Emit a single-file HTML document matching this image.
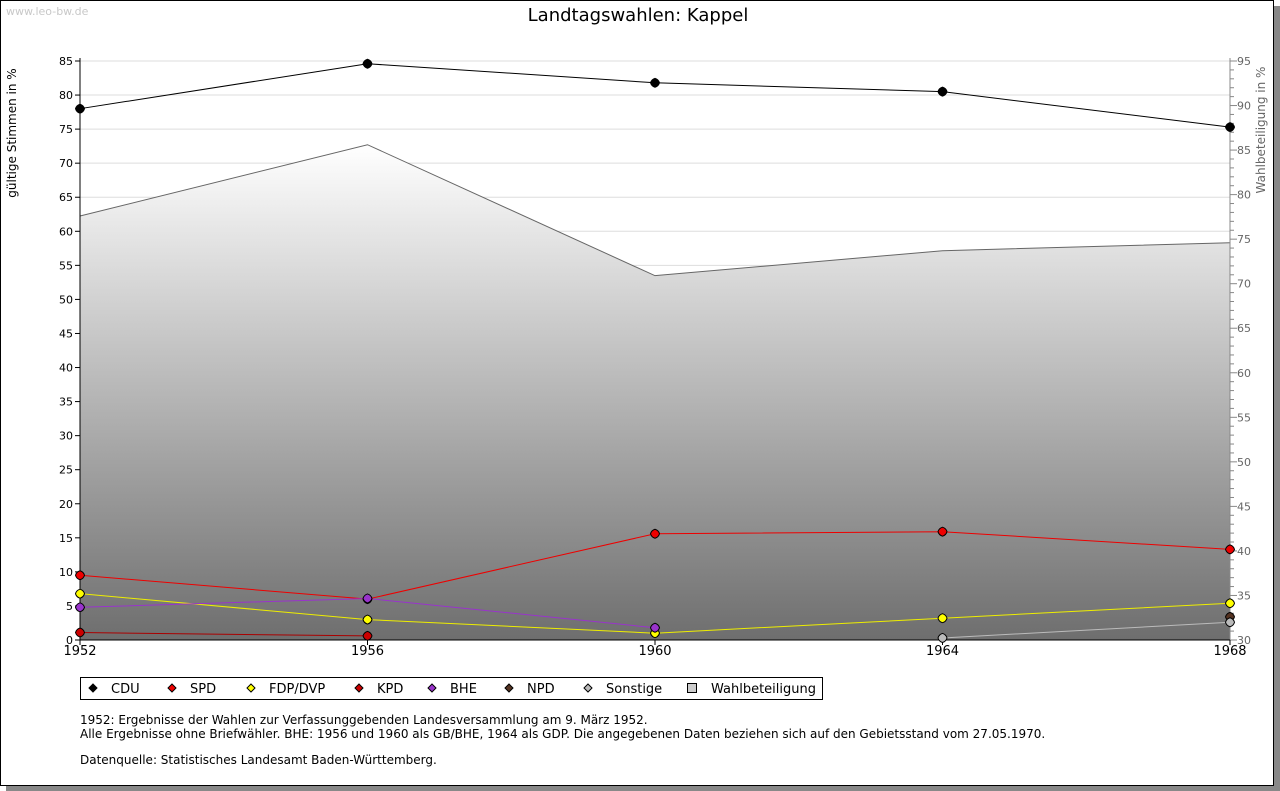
<!DOCTYPE html>
<html><head><meta charset="utf-8"><style>
body{margin:0;background:#fff;font-family:"DejaVu Sans","Liberation Sans",sans-serif}
#frame{position:absolute;left:0;top:0;width:1272px;height:784px;border:1px solid #000;background:#fff;box-shadow:6px 6px 0 #888}
</style></head><body>
<div id="frame"></div>
<svg id="c" width="1280" height="791" style="position:absolute;left:0;top:0" font-family="DejaVu Sans, Liberation Sans, sans-serif">
<defs><linearGradient id="g" x1="0" y1="0" x2="0" y2="1"><stop offset="0" stop-color="#fff"/><stop offset="1" stop-color="#6e6e6e"/></linearGradient></defs>
<text x="6" y="15" font-size="11" fill="#c8c8c8">www.leo-bw.de</text>
<text x="638" y="21" font-size="18" text-anchor="middle">Landtagswahlen: Kappel</text>
<text transform="translate(16,133) rotate(-90)" font-size="12" text-anchor="middle">gültige Stimmen in %</text>
<text transform="translate(1265,130) rotate(-90)" font-size="12" fill="#666" text-anchor="middle">Wahlbeteiligung in %</text>
<g id="plot"></g>
<g>
<rect x="80.5" y="677.5" width="742" height="22" fill="#fff" stroke="#000"/>
<g id="leg"></g>
</g>
<text font-size="12"><tspan x="80" y="724">1952: Ergebnisse der Wahlen zur Verfassunggebenden Landesversammlung am 9. März 1952.</tspan><tspan x="80" y="738">Alle Ergebnisse ohne Briefwähler. BHE: 1956 und 1960 als GB/BHE, 1964 als GDP. Die angegebenen Daten beziehen sich auf den Gebietsstand vom 27.05.1970.</tspan><tspan x="80" y="764">Datenquelle: Statistisches Landesamt Baden-Württemberg.</tspan></text>
</svg>
<script>
const years=[1952,1956,1960,1964,1968];
const cdu=[78.0,84.6,81.8,80.5,75.3];
const spd=[9.5,6.0,15.6,15.9,13.3];
const fdp=[6.8,3.0,1.0,3.2,5.4];
const kpd=[1.1,0.6,null,null,null];
const bhe=[4.8,6.1,1.8,null,null];
const npd=[null,null,null,null,3.4];
const sonst=[null,null,null,0.3,2.6];
const turnout=[77.6,85.6,70.9,73.7,74.6];
const leftTicks=[0,5,10,15,20,25,30,35,40,45,50,55,60,65,70,75,80,85];
const rightTicks=[30,35,40,45,50,55,60,65,70,75,80,85,90,95];
const NS='http://www.w3.org/2000/svg';
const X0=80,X1=1230,Y0=640,Y1=61;
const x=y=>X0+(y-1952)/(1968-1952)*(X1-X0);
const yl=v=>Y0-v/85*(Y0-Y1);
const yr=v=>Y0-(v-30)/65*(Y0-Y1);
const P=document.getElementById('plot');
function el(t,a,p){const e=document.createElementNS(NS,t);for(const k in a)e.setAttribute(k,a[k]);(p||P).appendChild(e);return e;}
leftTicks.forEach(t=>{if(t>0){const l=el('line',{x1:X0,x2:X1,y1:yl(t),y2:yl(t),stroke:'#ddd'});

}
const tx=el('text',{x:X0-7,y:yl(t)+4,'font-size':11,'text-anchor':'end'});tx.textContent=t;


el('line',{x1:X0-5,x2:X0,y1:yl(t),y2:yl(t),stroke:'#000'});});
let d='M'+x(years[0])+','+Y0;years.forEach((yy,i)=>d+='L'+x(yy)+','+yr(turnout[i]));d+='L'+X1+','+Y0+'Z';
const ar=el('path',{d:d,fill:'url(#g)'});


let d2='';years.forEach((yy,i)=>d2+=(i?'L':'M')+x(yy)+','+yr(turnout[i]));
el('path',{d:d2,fill:'none',stroke:'#666'});
el('line',{x1:X0,x2:X0,y1:Y1-3,y2:Y0,stroke:'#000'});
el('line',{x1:X1,x2:X1,y1:Y1-3,y2:Y0,stroke:'#888'});
el('line',{x1:X0,x2:X1,y1:Y0,y2:Y0,stroke:'#000'});
rightTicks.forEach(t=>{el('line',{x1:X1,x2:X1+7,y1:yr(t),y2:yr(t),stroke:'#888'});
const tx=el('text',{x:X1+7,y:yr(t)+4,'font-size':11,fill:'#666'});tx.textContent=t;


if(t<95)for(let k=1;k<5;k++)el('line',{x1:X1,x2:X1+4,y1:yr(t+k),y2:yr(t+k),stroke:'#888'});});
years.forEach(yy=>{el('line',{x1:x(yy),x2:x(yy),y1:Y0,y2:Y0+5,stroke:'#000'});
const tx=el('text',{x:x(yy),y:Y0+15,'font-size':13,'text-anchor':'middle'});tx.textContent=yy;

});
const series=[['cdu',cdu,'#000','#000'],['spd',spd,'#e00','#e00'],['fdp',fdp,'#ee0','#ff0'],['kpd',kpd,'#a00','#c00'],['bhe',bhe,'#93c','#93c'],['npd',npd,'#532','#532'],['sonstige',sonst,'#bbb','#bbb']];
series.forEach(([n,v,c,f])=>{let dd='',st=false;v.forEach((val,i)=>{if(val==null){st=false;return;}dd+=(st?'L':'M')+x(years[i])+','+yl(val);st=true;});
const ln=el('path',{d:dd,fill:'none',stroke:c});


v.forEach((val,i)=>{if(val==null)return;const X=x(years[i]),Y=yl(val);
const m=el('path',{d:`M${X},${Y-4.5}Q${X+3.5},${Y-3.5} ${X+4.5},${Y}Q${X+3.5},${Y+3.5} ${X},${Y+4.5}Q${X-3.5},${Y+3.5} ${X-4.5},${Y}Q${X-3.5},${Y-3.5} ${X},${Y-4.5}Z`,fill:f,stroke:'#000'});

});});
const L=document.getElementById('leg');
const legItems=[['CDU','#000',93],['SPD','#e00',172],['FDP/DVP','#ff0',251],['KPD','#c00',359],['BHE','#93c',432],['NPD','#532',509],['Sonstige','#bbb',588]];
legItems.forEach(([t,c,lx])=>{const m=el('path',{d:`M${lx},${684}L${lx+4},${688}L${lx},${692}L${lx-4},${688}Z`,fill:c,stroke:'#000'},L);


const tx=el('text',{x:lx+18,y:693,'font-size':13},L);tx.textContent=t;

});
el('rect',{x:687.5,y:683.5,width:9,height:9,fill:'#ccc',stroke:'#000'},L);
const tw=el('text',{x:711,y:693,'font-size':13},L);tw.textContent='Wahlbeteiligung';


</script>
</body></html>
